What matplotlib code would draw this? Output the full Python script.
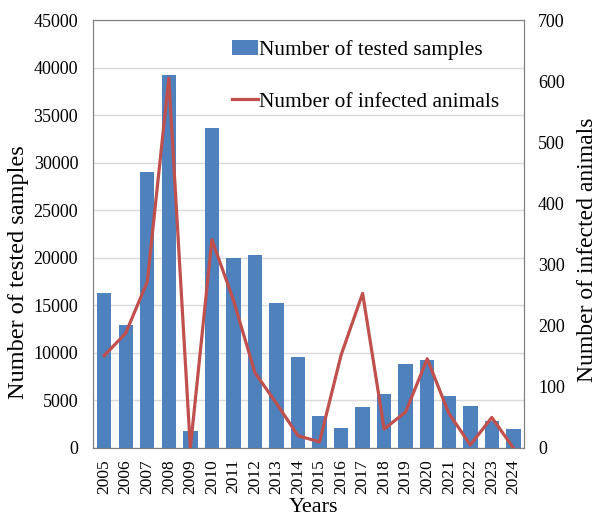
import matplotlib
matplotlib.use("Agg")
import matplotlib.pyplot as plt
import numpy as np

years = [str(y) for y in range(2005, 2025)]
tested_samples = [16300, 12900, 29000, 39200, 1750, 33700, 20000, 20300, 15300, 9550,
                  3400, 2100, 4350, 5700, 8800, 9250, 5450, 4400, 2800, 1950]
infected_animals = [151, 188, 272, 605, 0, 341, 242, 123, 73, 20,
                    10, 152, 253, 31, 59, 146, 57, 5, 50, 0]

plt.rcParams['font.family'] = ['Liberation Serif', 'DejaVu Serif']

fig = plt.figure(figsize=(5.99, 5.17), dpi=100)
ax = fig.add_axes([0.156, 0.1335, 0.719, 0.8275])
ax2 = ax.twinx()

x = np.arange(len(years))
bars = ax.bar(x, tested_samples, width=0.67, color='#4F81BD', zorder=2,
              label='Number of tested samples')
line, = ax2.plot(x, infected_animals, color='#C0504D', lw=2.3, zorder=3,
                 label='Number of infected animals')

ax.set_xlim(-0.5, len(years) - 0.5)
ax.set_ylim(0, 45000)
ax.set_yticks(np.arange(0, 45001, 5000))
ax2.set_ylim(0, 700)
ax2.set_yticks(np.arange(0, 701, 100))

ax.set_xticks(x)
ax.set_xticklabels(years, rotation=90, fontsize=12.5)
ax.tick_params(axis='y', labelsize=13, length=0, pad=11)
ax.tick_params(axis='x', length=0, pad=8)
ax2.tick_params(axis='y', labelsize=13, length=0, pad=10)

ax.yaxis.grid(True, color='#d9d9d9', lw=1, zorder=0)
ax.set_axisbelow(True)

for sp in ax.spines.values():
    sp.set_color('#808080')
for sp in ax2.spines.values():
    sp.set_color('#808080')

ax.set_ylabel('Number of tested samples', fontsize=17.5)
ax.yaxis.set_label_coords(-0.175, 0.411)
ax.yaxis.label.set_verticalalignment('center')

ax2.set_ylabel('Number of infected animals', fontsize=17)
ax2.yaxis.set_label_coords(1.146, 0.463)
ax2.yaxis.label.set_verticalalignment('center')

ax.set_xlabel('Years', fontsize=16)
ax.xaxis.set_label_coords(0.512, -0.138)
ax.xaxis.label.set_verticalalignment('center')

ax.set_zorder(ax2.get_zorder() - 1)
ax.patch.set_visible(True)
ax2.patch.set_visible(False)

fig.legend([bars, line], ['Number of tested samples', 'Number of infected animals'],
           loc='upper left', bbox_to_anchor=(0.358, 0.956), frameon=False,
           fontsize=15.4, handlelength=1.25, handleheight=0.7, handletextpad=0.05,
           labelspacing=1.5, borderpad=0.3)

fig.savefig('out.png', dpi=100)
